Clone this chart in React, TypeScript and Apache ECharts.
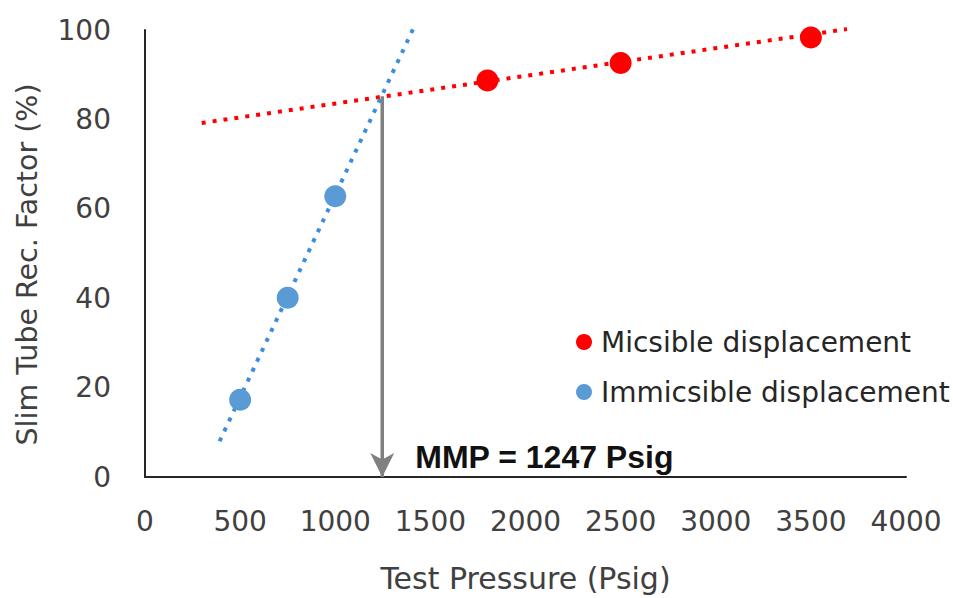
import React, { useEffect, useRef } from "react";
import * as echarts from "echarts";

// ---- data ----
const miscibleName = "Micsible displacement";
const immiscibleName = "Immicsible displacement";

const misciblePressure = [1800, 2500, 3500];
const miscibleRecovery = [88.7, 92.6, 98.3];

const immisciblePressure = [500, 750, 1000];
const immiscibleRecovery = [17.3, 40.1, 62.8];

const miscibleTrendPressure = [298, 3690];
const miscibleTrendRecovery = [79.2, 100.2];

const immiscibleTrendPressure = [392, 1410];
const immiscibleTrendRecovery = [8.0, 100.3];

const mmpPressure = [1247, 1247];
const mmpRecovery = [85.2, 0];
const mmpLabel = "MMP = 1247 Psig";

const xAxisTitle = "Test Pressure (Psig)";
const yAxisTitle = "Slim Tube Rec. Factor (%)";

const zip = (xs: number[], ys: number[]) => xs.map((x, i) => [x, ys[i]]);

const FONT = "DejaVu Sans";
const RED = "#FF0000";
const BLUE = "#5B9BD5";
const BLUE_LINE = "#3C8EDB";
const GREY = "#808080";

export default function App() {
  const ref = useRef<HTMLDivElement>(null);

  useEffect(() => {
    if (!ref.current) return;
    const chart = echarts.init(ref.current, null, { renderer: "svg" });
    const option: any = {
      animation: false,
      backgroundColor: "#ffffff",
      grid: { left: 145, right: 47, top: 30, bottom: 117, containLabel: false },
      legend: {
        data: [
          { name: miscibleName, icon: "circle" },
          { name: immiscibleName, icon: "circle" },
        ],
        orient: "vertical",
        left: 571,
        top: 322,
        itemWidth: 16,
        itemHeight: 16,
        itemGap: 20,
        textStyle: {
          fontFamily: FONT,
          fontSize: 28,
          color: "#262626",
          lineHeight: 30,
          padding: [0, 0, 0, 4],
        },
      },
      xAxis: {
        type: "value",
        min: 0,
        max: 4000,
        interval: 500,
        name: xAxisTitle,
        nameLocation: "middle",
        nameGap: 86,
        nameTextStyle: { fontFamily: FONT, fontSize: 30, color: "#404040" },
        axisLine: { show: true, lineStyle: { color: "#262626", width: 2 } },
        axisTick: { show: false },
        splitLine: { show: false },
        axisLabel: {
          fontFamily: FONT,
          fontSize: 28,
          color: "#404040",
          margin: 30,
          formatter: (v: number) => String(v),
        },
      },
      yAxis: {
        type: "value",
        min: 0,
        max: 100,
        interval: 20,
        name: yAxisTitle,
        nameLocation: "middle",
        nameGap: 103,
        nameTextStyle: {
          fontFamily: FONT,
          fontSize: 28.5,
          color: "#404040",
          padding: [0, 22, 0, 0],
        },
        axisLine: { show: true, lineStyle: { color: "#262626", width: 2 } },
        axisTick: { show: false },
        splitLine: { show: false },
        axisLabel: {
          fontFamily: FONT,
          fontSize: 28,
          color: "#404040",
          margin: 34,
          formatter: (v: number) => String(v),
        },
      },
      series: [
        {
          name: "miscibleTrend",
          type: "line",
          data: zip(miscibleTrendPressure, miscibleTrendRecovery),
          showSymbol: false,
          clip: false,
          lineStyle: { color: RED, width: 4, type: [4, 7] },
          z: 2,
        },
        {
          name: "immiscibleTrend",
          type: "line",
          data: zip(immiscibleTrendPressure, immiscibleTrendRecovery),
          showSymbol: false,
          clip: false,
          lineStyle: { color: BLUE_LINE, width: 4, type: [4, 7] },
          z: 2,
        },
        {
          name: "mmpLine",
          type: "line",
          data: zip(mmpPressure, mmpRecovery),
          showSymbol: false,
          lineStyle: { color: GREY, width: 3.5 },
          z: 1,
        },
        {
          name: "mmpArrow",
          type: "scatter",
          data: [[mmpPressure[1], mmpRecovery[1]]],
          symbol: "path://M0,0 L11,6 L22,0 L11,22 Z",
          symbolSize: [24, 24],
          symbolOffset: [0, "-50%"],
          itemStyle: { color: GREY, opacity: 1 },
          label: {
            show: true,
            formatter: mmpLabel,
            position: "right",
            distance: 21,
            offset: [0, -8],
            fontFamily: "Liberation Sans",
            fontWeight: "bold",
            fontSize: 32,
            color: "#111111",
          },
          z: 3,
        },
        {
          name: miscibleName,
          type: "scatter",
          data: zip(misciblePressure, miscibleRecovery),
          symbol: "circle",
          symbolSize: 22,
          itemStyle: { color: RED, opacity: 1 },
          z: 5,
        },
        {
          name: immiscibleName,
          type: "scatter",
          data: zip(immisciblePressure, immiscibleRecovery),
          symbol: "circle",
          symbolSize: 22,
          itemStyle: { color: BLUE, opacity: 1 },
          z: 5,
        },
      ],
    };
    chart.setOption(option);
    return () => chart.dispose();
  }, []);

  return (
    <div
      ref={ref}
      style={{ position: "fixed", left: 0, top: 0, width: 953, height: 598, background: "#fff" }}
    />
  );
}
